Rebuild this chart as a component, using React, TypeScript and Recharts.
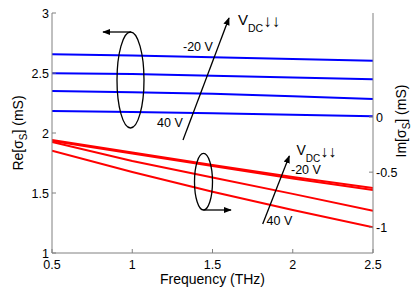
import React from 'react';
import { LineChart, Line, XAxis, YAxis } from 'recharts';

// frequency samples (THz)
const freq = [0.5, 1, 1.5, 2, 2.5];

// Re[sigma_s] (mS), top to bottom: -20 V ... 40 V
const reM20 = [2.656, 2.646, 2.632, 2.617, 2.603];
const re0 = [2.498, 2.491, 2.478, 2.462, 2.448];
const re20 = [2.35, 2.34, 2.327, 2.306, 2.283];
const re40 = [2.183, 2.175, 2.165, 2.152, 2.139];

// Im[sigma_s] (mS)
const imM20 = [-0.209, -0.322, -0.435, -0.544, -0.644];
const im0 = [-0.218, -0.331, -0.444, -0.558, -0.662];
const im20 = [-0.227, -0.398, -0.548, -0.697, -0.851];
const im40 = [-0.306, -0.499, -0.677, -0.843, -1.0];

const xTicks = [0.5, 1, 1.5, 2, 2.5];
const reTicks = [1, 1.5, 2, 2.5, 3];
const imTicks = [-1, -0.5, 0];

const data = freq.map((f, i) => ({
  f,
  reM20: reM20[i],
  re0: re0[i],
  re20: re20[i],
  re40: re40[i],
  imM20: imM20[i],
  im0: im0[i],
  im20: im20[i],
  im40: im40[i],
}));

const FONT = '"Liberation Sans", Arial, sans-serif';
const AXIS = '#808080';
const DOWN2 = '\u2193\uFE0E\u2193\uFE0E';

function XTick(props: any) {
  const { x, y, payload } = props;
  return (
    <g>
      <line x1={x} y1={y} x2={x} y2={y - 4} stroke={AXIS} />
      <text x={x} y={y + 16} textAnchor="middle" fontSize={12.5} fontFamily={FONT} fill="#000">
        {String(payload.value)}
      </text>
    </g>
  );
}

function LeftTick(props: any) {
  const { x, y, payload } = props;
  return (
    <g>
      <line x1={x} y1={y} x2={x + 4} y2={y} stroke={AXIS} />
      <text x={x - 3} y={y + 4.5} textAnchor="end" fontSize={12.5} fontFamily={FONT} fill="#000">
        {String(payload.value)}
      </text>
    </g>
  );
}

function RightTick(props: any) {
  const { x, y, payload } = props;
  return (
    <g>
      <line x1={x} y1={y} x2={x - 4} y2={y} stroke={AXIS} />
      <text x={x + 3} y={y + 4.5} textAnchor="start" fontSize={12.5} fontFamily={FONT} fill="#000">
        {String(payload.value)}
      </text>
    </g>
  );
}

function Overlay() {
  return (
    <svg
      width={415}
      height={297}
      style={{ position: 'absolute', left: 0, top: 0, pointerEvents: 'none' }}
      fontFamily={FONT}
    >
      <defs>
        <marker id="ah" viewBox="0 0 10 10" refX="9" refY="5" markerWidth="8" markerHeight="8" orient="auto" markerUnits="userSpaceOnUse">
          <path d="M0,1 L10,5 L0,9 z" fill="#000" />
        </marker>
      </defs>

      {/* axis titles */}
      <text x={212.5} y={284} textAnchor="middle" fontSize={14} fill="#000">
        Frequency (THz)
      </text>
      <text transform="rotate(-90 23 133)" x={23} y={133} textAnchor="middle" fontSize={14} fill="#000">
        Re[σ<tspan fontSize={10} dy={4}>S</tspan>
        <tspan dy={-4}>] (mS)</tspan>
      </text>
      <text transform="rotate(-90 406 121)" x={406} y={121} textAnchor="middle" fontSize={14} fill="#000">
        Im[σ<tspan fontSize={10} dy={4}>S</tspan>
        <tspan dy={-4}>] (mS)</tspan>
      </text>

      {/* upper group: Re */}
      <ellipse cx={130.5} cy={80} rx={13.5} ry={48} fill="none" stroke="#000" strokeWidth={1.3} />
      <line x1={131} y1={32} x2={103} y2={32} stroke="#000" strokeWidth={1.3} markerEnd="url(#ah)" />
      <line x1={183} y1={140} x2={229} y2={18} stroke="#000" strokeWidth={1.3} markerEnd="url(#ah)" />
      <text x={183} y={51} fontSize={12.5} fill="#000">-20 V</text>
      <text x={157} y={127} fontSize={12.5} fill="#000">40 V</text>
      <text x={238} y={25} fontSize={15} fill="#000">
        V<tspan fontSize={10.5} dy={7}>DC</tspan>
        <tspan fontSize={17} dy={-5}>{DOWN2}</tspan>
      </text>

      {/* lower group: Im */}
      <ellipse cx={203.5} cy={181.7} rx={9} ry={28.3} fill="none" stroke="#000" strokeWidth={1.3} />
      <line x1={203.5} y1={210} x2={231} y2={210} stroke="#000" strokeWidth={1.3} markerEnd="url(#ah)" />
      <line x1={262.7} y1={224} x2={289.3} y2={156} stroke="#000" strokeWidth={1.3} markerEnd="url(#ah)" />
      <text x={291} y={174} fontSize={12.5} fill="#000">-20 V</text>
      <text x={266.5} y={225} fontSize={12.5} fill="#000">40 V</text>
      <text x={296.5} y={155} fontSize={14} fill="#000">
        V<tspan fontSize={10} dy={7}>DC</tspan>
        <tspan fontSize={16} dy={-5}>{DOWN2}</tspan>
      </text>
    </svg>
  );
}

export default function App() {
  return (
    <div style={{ position: 'absolute', left: 0, top: 0, width: 415, height: 297, background: '#fff' }}>
      <LineChart width={415} height={297} data={data} margin={{ top: 13, right: 0, bottom: 0, left: 0 }}>
        <XAxis
          dataKey="f"
          type="number"
          domain={[0.5, 2.5]}
          ticks={xTicks}
          height={44}
          tickSize={0}
          tickMargin={0}
          stroke={AXIS}
          tick={(p: any) => <XTick {...p} />}
          allowDataOverflow
        />
        <YAxis
          yAxisId="re"
          orientation="left"
          type="number"
          domain={[1, 3]}
          ticks={reTicks}
          width={52}
          tickSize={0}
          tickMargin={0}
          stroke={AXIS}
          tick={(p: any) => <LeftTick {...p} />}
          allowDataOverflow
        />
        <YAxis
          yAxisId="im"
          orientation="right"
          type="number"
          domain={[-1.233, 0.943]}
          ticks={imTicks}
          width={42}
          tickSize={0}
          tickMargin={0}
          stroke={AXIS}
          tick={(p: any) => <RightTick {...p} />}
          allowDataOverflow
        />
        <Line yAxisId="re" dataKey="reM20" stroke="#0000ff" strokeWidth={2} dot={false} isAnimationActive={false} />
        <Line yAxisId="re" dataKey="re0" stroke="#0000ff" strokeWidth={2} dot={false} isAnimationActive={false} />
        <Line yAxisId="re" dataKey="re20" stroke="#0000ff" strokeWidth={2} dot={false} isAnimationActive={false} />
        <Line yAxisId="re" dataKey="re40" stroke="#0000ff" strokeWidth={2} dot={false} isAnimationActive={false} />
        <Line yAxisId="im" dataKey="imM20" stroke="#ff0000" strokeWidth={2} dot={false} isAnimationActive={false} />
        <Line yAxisId="im" dataKey="im0" stroke="#ff0000" strokeWidth={2} dot={false} isAnimationActive={false} />
        <Line yAxisId="im" dataKey="im20" stroke="#ff0000" strokeWidth={2} dot={false} isAnimationActive={false} />
        <Line yAxisId="im" dataKey="im40" stroke="#ff0000" strokeWidth={2} dot={false} isAnimationActive={false} />
      </LineChart>
      <Overlay />
    </div>
  );
}
